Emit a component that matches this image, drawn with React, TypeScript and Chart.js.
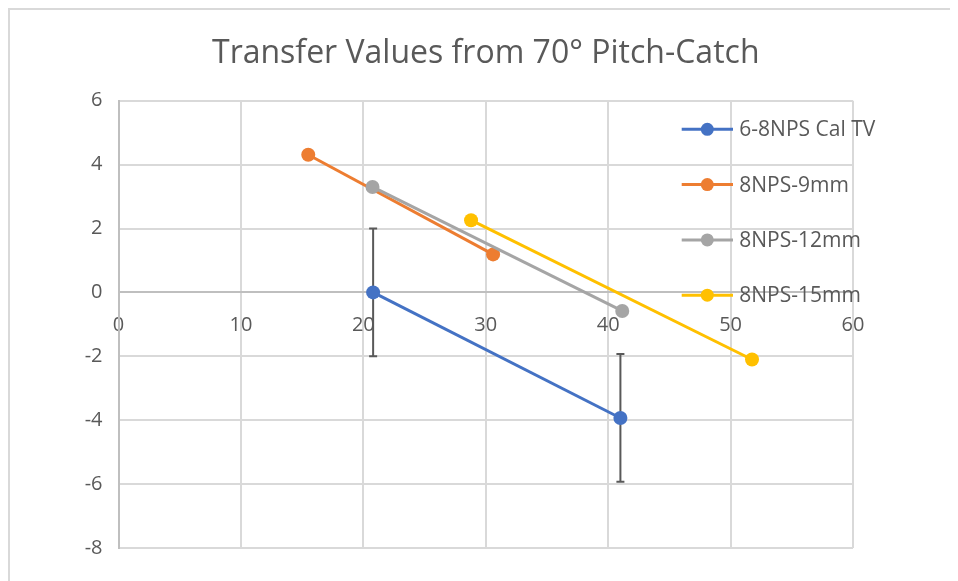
import React, { useEffect, useRef } from "react";
import { Chart, registerables } from "chart.js";

Chart.register(...registerables);

const titleText = "Transfer Values from 70° Pitch-Catch";
const seriesNames = ["6-8NPS Cal TV", "8NPS-9mm", "8NPS-12mm", "8NPS-15mm"];
const seriesColors = ["#4472C4", "#ED7D31", "#A5A5A5", "#FFC000"];

const calX = [20.8, 41.0];
const calY = [0, -3.93];
const calErr = [2, 2];

const mm9X = [15.5, 30.6];
const mm9Y = [4.31, 1.19];

const mm12X = [20.75, 41.15];
const mm12Y = [3.3, -0.58];

const mm15X = [28.8, 51.75];
const mm15Y = [2.26, -2.1];

const xMin = 0, xMax = 60, xStep = 10;
const yMin = -8, yMax = 6, yStep = 2;

const FONT = "'Open Sans', 'Noto Sans', sans-serif";
const TEXT_COLOR = "#595959";

function pts(xs: number[], ys: number[]) {
  return xs.map((x, i) => ({ x, y: ys[i] }));
}

const errorBarPlugin = {
  id: "errorBars",
  beforeDatasetsDraw(chart: any) {
    const { ctx } = chart;
    const xs = chart.scales.x;
    const ys = chart.scales.y;
    chart.data.datasets.forEach((ds: any) => {
      if (!ds.errors) return;
      ctx.save();
      ctx.strokeStyle = "#595959";
      ctx.lineWidth = 2;
      ds.data.forEach((p: any, i: number) => {
        const e = ds.errors[i];
        const px = xs.getPixelForValue(p.x);
        const top = ys.getPixelForValue(p.y + e);
        const bot = ys.getPixelForValue(p.y - e);
        ctx.beginPath();
        ctx.moveTo(px, top);
        ctx.lineTo(px, bot);
        ctx.moveTo(px - 4, top);
        ctx.lineTo(px + 4, top);
        ctx.moveTo(px - 4, bot);
        ctx.lineTo(px + 4, bot);
        ctx.stroke();
      });
      ctx.restore();
    });
  },
};

const framePlugin = {
  id: "frame",
  beforeDraw(chart: any) {
    const { ctx, width, height } = chart;
    ctx.save();
    ctx.fillStyle = "#ffffff";
    ctx.fillRect(0, 0, width, height);
    ctx.strokeStyle = "#d9d9d9";
    ctx.lineWidth = 2;
    ctx.beginPath();
    ctx.moveTo(1, height);
    ctx.lineTo(1, 1);
    ctx.lineTo(width, 1);
    ctx.stroke();
    ctx.restore();
  },
};

const legendPlugin = {
  id: "overlayLegend",
  afterDraw(chart: any) {
    const { ctx } = chart;
    const x0 = 673.7, x1 = 725, mx = 699.3, tx = 731.3;
    const y0 = 121.3, dy = 55.3;
    ctx.save();
    chart.data.datasets.forEach((ds: any, i: number) => {
      const y = y0 + dy * i;
      ctx.strokeStyle = ds.borderColor;
      ctx.lineWidth = 3;
      ctx.beginPath();
      ctx.moveTo(x0, y);
      ctx.lineTo(x1, y);
      ctx.stroke();
      ctx.fillStyle = ds.backgroundColor;
      ctx.beginPath();
      ctx.arc(mx, y, 6.5, 0, Math.PI * 2);
      ctx.fill();
      ctx.fillStyle = TEXT_COLOR;
      ctx.font = `21px ${FONT}`;
      ctx.textAlign = "left";
      ctx.textBaseline = "middle";
      ctx.fillText(ds.label, tx, y + 1);
    });
    ctx.restore();
  },
};

export default function App() {
  const ref = useRef<HTMLCanvasElement | null>(null);

  useEffect(() => {
    if (!ref.current) return;
    const series = [
      pts(calX, calY),
      pts(mm9X, mm9Y),
      pts(mm12X, mm12Y),
      pts(mm15X, mm15Y),
    ];
    const datasets: any[] = series.map((data, i) => ({
      label: seriesNames[i],
      data,
      borderColor: seriesColors[i],
      backgroundColor: seriesColors[i],
      pointBackgroundColor: seriesColors[i],
      pointBorderColor: seriesColors[i],
      pointRadius: 7,
      pointBorderWidth: 0,
      borderWidth: 3,
      showLine: true,
      order: series.length - i,
    }));
    datasets[0].errors = calErr;

    const chart = new Chart(ref.current, {
      type: "scatter",
      data: { datasets },
      options: {
        responsive: false,
        animation: false,
        layout: { padding: { left: 0, right: 105, top: 0, bottom: 33 } },
        plugins: {
          legend: { display: false },
          tooltip: { enabled: false },
          title: {
            display: true,
            fullSize: false,
            text: titleText,
            color: TEXT_COLOR,
            font: { family: FONT, size: 32, weight: "normal" },
            padding: { top: 26.3, bottom: 28 },
          },
        },
        scales: {
          x: {
            type: "linear",
            min: xMin,
            max: xMax,
            position: { y: 0 } as any,
            ticks: {
              stepSize: xStep,
              color: TEXT_COLOR,
              font: { family: FONT, size: 20 },
              padding: 21,
            },
            grid: { color: "#d9d9d9", lineWidth: 2, drawTicks: false },
            border: { color: "#bfbfbf", width: 2 },
          },
          y: {
            type: "linear",
            min: yMin,
            max: yMax,
            ticks: {
              stepSize: yStep,
              color: TEXT_COLOR,
              font: { family: FONT, size: 20 },
              padding: 16,
            },
            grid: { color: "#d9d9d9", lineWidth: 2, drawTicks: false },
            border: { color: "#bfbfbf", width: 2 },
            afterFit(scale: any) {
              scale.width = 110.5;
            },
          },
        },
      },
      plugins: [framePlugin, errorBarPlugin, legendPlugin],
    });
    return () => chart.destroy();
  }, []);

  return (
    <div style={{ position: "relative", width: 950, height: 573 }}>
      <canvas ref={ref} width={950} height={573} style={{ display: "block" }} />
    </div>
  );
}
